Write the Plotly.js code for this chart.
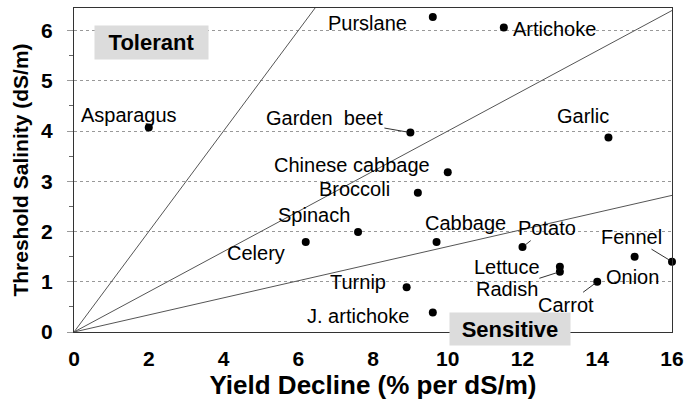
<!DOCTYPE html>
<html>
<head>
<meta charset="utf-8">
<script src="https://cdn.plot.ly/plotly-3.0.1.min.js"></script>
<style>html,body{margin:0;padding:0;background:#fff;}#chart{width:685px;height:406px;}</style>
</head>
<body>
<div id="chart"></div>
<script>
// Data
var crops = ["Purslane","Artichoke","Asparagus","Garden  beet","Garlic","Chinese cabbage","Broccoli",
             "Spinach","Celery","Cabbage","Turnip","J. artichoke","Potato","Lettuce","Radish",
             "Fennel","Onion","Carrot"];
var yieldDecline = [9.6, 11.5, 2.0, 9.0, 14.3, 10.0, 9.2, 7.6, 6.2, 9.7, 8.9, 9.6, 12.0, 13.0, 13.0, 16.0, 15.0, 14.0];
var threshold    = [6.27, 6.06, 4.07, 3.97, 3.87, 3.18, 2.77, 1.99, 1.79, 1.79, 0.89, 0.39, 1.69, 1.30, 1.20, 1.40, 1.50, 1.00];

// boundary lines through the origin (threshold = slope * yield decline)
var lineX = [0, 16];
var slopes = [1.0, 0.4, 0.17];

var xTicks = [0, 2, 4, 6, 8, 10, 12, 14, 16];
var yTicks = [0, 1, 2, 3, 4, 5, 6];

// label placement (pixels): [dx, dy, leader?, xanchor]
var labelStyle = {
  "Purslane": [-65, 6, false],
  "Artichoke": [7, 1, false, "left"],
  "Asparagus": [-20, -13, false],
  "Garden  beet": [-86, -15, true],
  "Garlic": [-25, -22, false],
  "Chinese cabbage": [-96, -7, false],
  "Broccoli": [-63, -4, false],
  "Spinach": [-44, -17, false],
  "Celery": [-50, 11, false],
  "Cabbage": [29, -19, false],
  "Turnip": [-49, -5, false],
  "J. artichoke": [-75, 4, false],
  "Potato": [24, -19, true],
  "Lettuce": [-53, 0, false],
  "Radish": [-53, 17, true],
  "Fennel": [-41, -25, true],
  "Onion": [-2, 20, false],
  "Carrot": [-31, 23, true]
};

var font = "Liberation Sans, Arial, Helvetica, sans-serif";
var traces = [];
slopes.forEach(function (s) {
  traces.push({
    x: lineX, y: lineX.map(function (v) { return v * s; }),
    mode: "lines", type: "scatter", hoverinfo: "skip",
    line: {color: "#555", width: 1}, showlegend: false
  });
});
traces.push({
  x: yieldDecline, y: threshold, text: crops, mode: "markers", type: "scatter",
  marker: {color: "#000", size: 8}, cliponaxis: false, showlegend: false
});

var annotations = crops.map(function (c, i) {
  var st = labelStyle[c];
  var a = {
    x: yieldDecline[i], y: threshold[i], xref: "x", yref: "y", text: c,
    font: {family: font, size: 20, color: "#000"}
  };
  if (st[2]) {
    a.showarrow = true; a.arrowhead = 0; a.arrowwidth = 1; a.arrowcolor = "#333";
    a.ax = st[0]; a.ay = st[1]; a.standoff = 3;
  } else {
    a.showarrow = false; a.xshift = st[0]; a.yshift = -st[1];
    if (st[3]) a.xanchor = st[3];
  }
  return a;
});
annotations.push({
  xref: "paper", yref: "paper", x: 0.130, y: 0.892, xanchor: "center", yanchor: "middle",
  text: "<b>Tolerant</b>", showarrow: false,
  font: {family: font, size: 22, color: "#000"}, bgcolor: "#dcdcdc", width: 113, height: 33, borderpad: 0
});
annotations.push({
  xref: "paper", yref: "paper", x: 0.729, y: 0.009, xanchor: "center", yanchor: "middle",
  text: "<b>Sensitive</b>", showarrow: false,
  font: {family: font, size: 22, color: "#000"}, bgcolor: "#dcdcdc", width: 120, height: 32, borderpad: 0
});

var layout = {
  width: 685, height: 406,
  margin: {l: 74, r: 13, t: 8, b: 74},
  paper_bgcolor: "#fff", plot_bgcolor: "#fff",
  showlegend: false,
  xaxis: {
    range: [0, 16], tickvals: xTicks, showgrid: false, zeroline: false,
    showline: true, linecolor: "#333", linewidth: 1, mirror: true, ticks: "",
    ticklabelstandoff: 8,
    tickfont: {family: font, size: 21, color: "#000", weight: "bold"},
    title: {text: "<b>Yield Decline (% per dS/m)</b>", font: {family: font, size: 26, color: "#000"}, standoff: 6}
  },
  yaxis: {
    range: [0, 6.45], tickvals: yTicks, showgrid: true, gridcolor: "#999", griddash: "dot", gridwidth: 1,
    zeroline: false, showline: true, linecolor: "#333", linewidth: 1, mirror: true,
    ticks: "outside", ticklen: 6, tickcolor: "#999", ticklabelstandoff: 10,
    minor: {dtick: 0.5, ticks: "outside", ticklen: 4, tickcolor: "#666", showgrid: false},
    tickfont: {family: font, size: 21, color: "#000", weight: "bold"},
    title: {text: "<b>Threshold Salinity (dS/m)</b>", font: {family: font, size: 21, color: "#000"}, standoff: 6}
  },
  annotations: annotations
};

Plotly.newPlot("chart", traces, layout, {displayModeBar: false, staticPlot: true});
</script>
</body>
</html>
